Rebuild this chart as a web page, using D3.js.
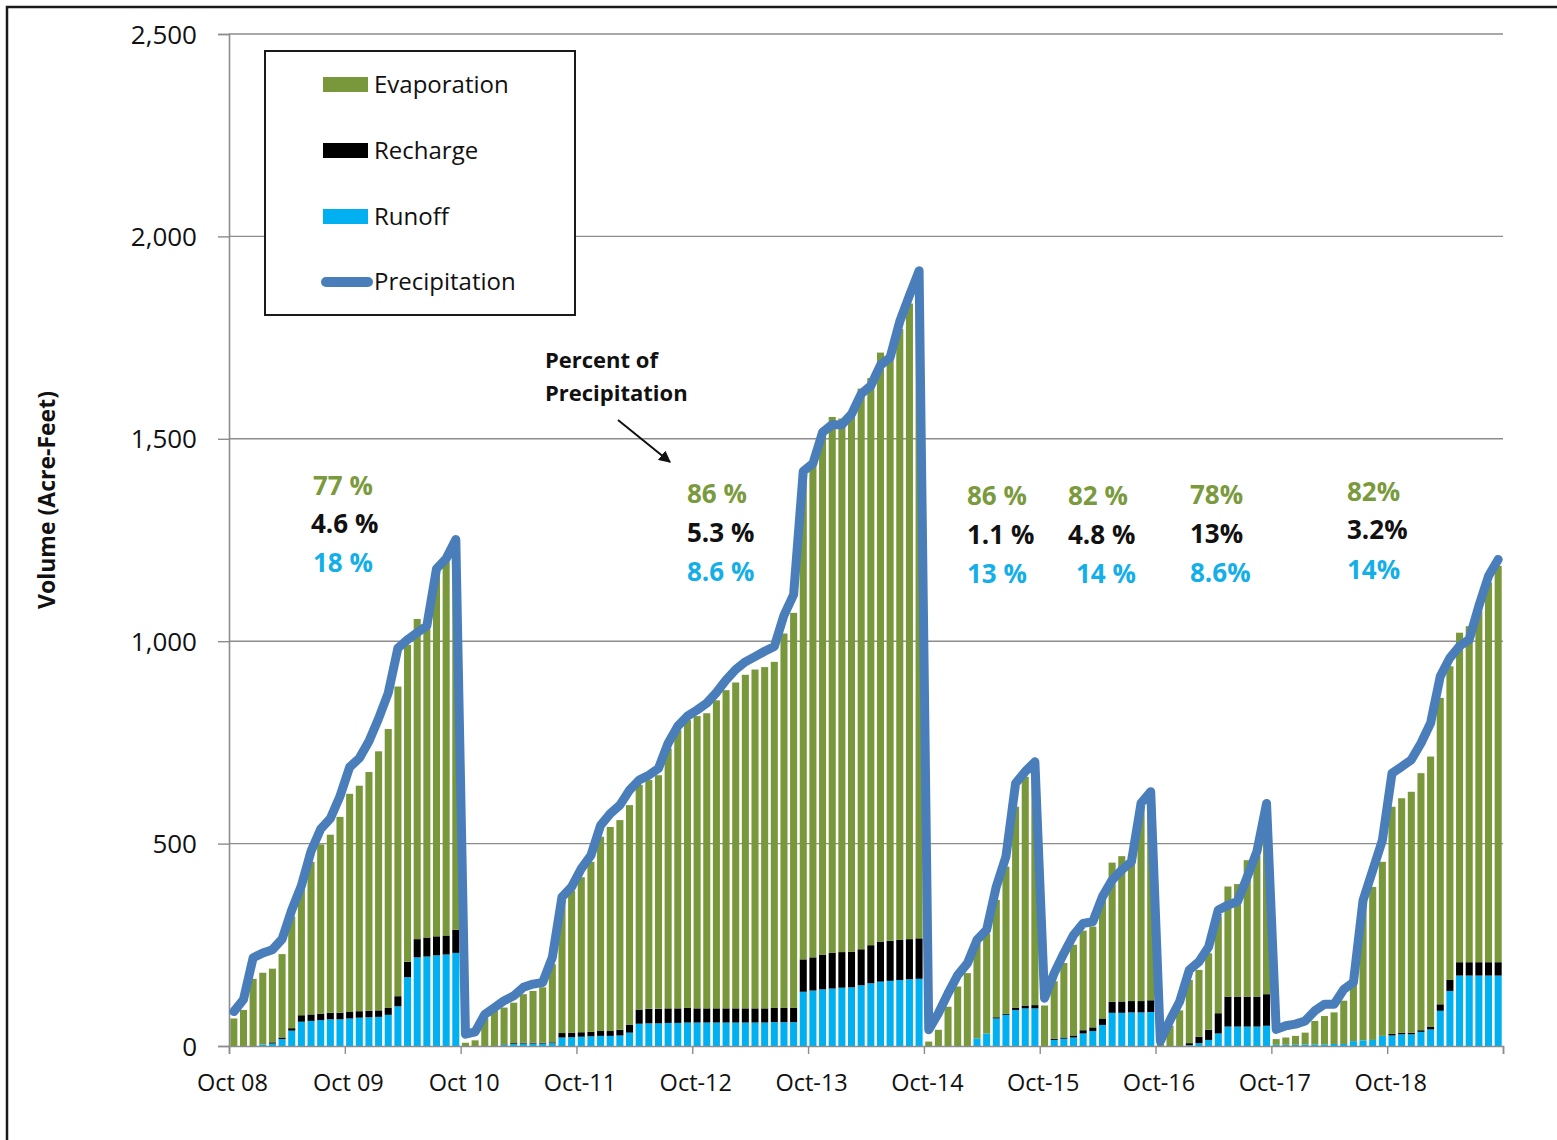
<!DOCTYPE html>
<html><head><meta charset="utf-8">
<script src="https://cdn.jsdelivr.net/npm/d3@7"></script>
<style>
html,body{margin:0;padding:0;background:#fff}
svg{display:block}
text{font-family:"Open Sans",sans-serif}
</style>
</head><body>
<svg id="chart" width="1557" height="1140"></svg>
<script>
// ---------------- DATA ----------------
// monthly categories, Oct 2008 .. Sep 2019 (132 months)
const months = d3.timeMonth.range(new Date(2008, 9, 1), new Date(2019, 9, 1));

// cumulative volumes (acre-feet) per month, reset each accounting period
const runoff = [
  0,0,0,4,6,17,38,60,62,64,66,66,68,70,71,72,77,98,170,219,221,224,226,230,
  0,0,0,0,3,5,6,6,6,7,21,22,23,24,25,25,26,33,55,56,56,57,57,58,
  58,58,58,58,58,58,58,58,59,59,59,134,137,140,142,144,145,150,155,159,161,163,165,166,
  0,0,0,0,0,19,31,68,77,89,93,93,
  0,15,18,21,31,37,52,82,82,83,83,84,
  0,0,0,2,7,15,31,48,48,48,48,50,
  3,3,3,4,4,4,5,5,12,14,15,25,26,29,29,35,41,87,136,174,174,174,174,174
];
const recharge = [
  0,0,0,0,3,4,6,16,16,16,16,16,16,16,16,16,17,25,38,45,47,47,47,57,
  0,0,0,0,1,2,2,2,2,2,11,11,11,11,12,12,14,19,35,36,36,36,36,36,
  35,35,35,35,35,35,35,35,35,35,35,80,82,85,88,88,88,89,94,99,99,99,99,100,
  0,0,0,0,0,0,0,3,3,5,7,8,
  0,3,3,5,8,9,16,27,28,28,28,29,
  0,0,0,5,16,25,50,74,74,74,74,78,
  0,0,0,0,0,0,0,0,0,0,0,0,4,4,4,4,6,16,27,33,33,33,33,33
];
const evaporation = [
  68,89,166,177,182,206,276,320,377,418,440,484,539,557,590,640,689,765,783,791,762,899,923,943,
  8,14,70,87,91,100,120,128,137,193,328,351,383,420,480,504,518,543,555,565,577,642,687,711,
  722,729,761,786,805,824,837,843,855,925,976,1200,1220,1297,1324,1318,1321,1385,1401,1455,1440,1509,1570,1629,
  11,40,97,147,180,235,247,290,363,497,565,589,
  100,142,184,224,246,249,292,344,359,359,479,507,
  5,50,88,156,165,189,239,272,278,337,348,464,
  14,18,22,29,58,70,78,107,141,336,378,430,561,579,595,635,668,757,775,814,830,868,938,979
];
const precipitation = [
  85,115,218,230,238,264,336,396,481,536,562,617,689,711,753,809,872,983,1004,1021,1038,1179,1204,1251,
  29,35,78,95,112,124,145,153,157,219,368,393,438,471,545,574,595,632,657,669,686,748,790,815,
  830,847,873,904,930,949,962,975,987,1064,1115,1420,1439,1516,1535,1535,1561,1611,1631,1682,1701,1790,1854,1915,
  40,81,130,175,204,262,287,394,468,649,678,702,
  118,180,229,274,303,307,369,410,435,455,600,628,
  12,64,110,188,208,245,336,348,357,418,480,599,
  41,50,54,62,87,103,103,140,157,360,434,508,674,690,707,748,798,913,959,988,1004,1087,1161,1202
];

const yTicks = [0, 500, 1000, 1500, 2000, 2500];
const xTickMonths = [0,12,24,36,48,60,72,84,96,108,120,132];
const xTickLabels = ["Oct 08","Oct 09","Oct 10","Oct-11","Oct-12","Oct-13","Oct-14","Oct-15","Oct-16","Oct-17","Oct-18",""];

const seriesNames = ["Evaporation","Recharge","Runoff","Precipitation"];
// percent-of-precipitation labels per period: [evaporation, recharge, runoff]
const pctEvap     = ["77 %","86 %","86 %","82 %","78%","82%"];
const pctRecharge = ["4.6 %","5.3 %","1.1 %","4.8 %","13%","3.2%"];
const pctRunoff   = ["18 %","8.6 %","13 %","14 %","8.6%","14%"];

// ---------------- LAYOUT / STYLE ----------------
const C = {
  evap: "#79983b", rech: "#000000", run: "#00b0f0", prec: "#4a7ebb",
  grid: "#8c8c8c", pctGreen: "#7a9a3d", pctBlue: "#14aee8"
};
const L = 229, R = 1503, T = 34, B = 1046;
// label anchor positions (x start, baselines for the three rows)
const pctPos = [
  {x:[313,311,313], y:[495,533,572]},
  {x:[687,687,687], y:[503,542,581]},
  {x:[967,967,967], y:[505,544,583]},
  {x:[1068,1068,1076], y:[505,544,583]},
  {x:[1190,1190,1190], y:[504,543,582]},
  {x:[1347,1347,1347], y:[501,539,579]}
];

const svg = d3.select("#chart");
svg.append("rect").attr("width",1557).attr("height",1140).attr("fill","#fff");
// outer frame
svg.append("rect").attr("x",7).attr("y",7).attr("width",1580).attr("height",1160)
  .attr("fill","none").attr("stroke","#1a1a1a").attr("stroke-width",2.5);

const x = d3.scaleBand().domain(d3.range(months.length)).range([L,R])
  .paddingInner(0.27).paddingOuter(0.135);
const xt = d3.scaleLinear().domain([0, months.length]).range([L,R]);
const y = d3.scaleLinear().domain([0,2500]).range([B,T]);

// gridlines
svg.append("g").selectAll("line").data(yTicks.filter(d=>d>0)).join("line")
  .attr("x1",L).attr("x2",R).attr("y1",d=>y(d)).attr("y2",d=>y(d))
  .attr("stroke",C.grid).attr("stroke-width",1.4);

// stacked bars
const rows = months.map((m,i)=>({i, runoff:runoff[i], recharge:recharge[i], evaporation:evaporation[i]}));
const stacked = d3.stack().keys(["runoff","recharge","evaporation"])(rows);
const colorOf = {runoff:C.run, recharge:C.rech, evaporation:C.evap};
svg.append("g").selectAll("g").data(stacked).join("g")
  .attr("fill",d=>colorOf[d.key])
  .selectAll("rect").data(d=>d).join("rect")
  .attr("x",d=>x(d.data.i)).attr("width",x.bandwidth())
  .attr("y",d=>y(d[1])).attr("height",d=>Math.max(0,y(d[0])-y(d[1])));

// axes
const yAxis = svg.append("g").attr("transform",`translate(${L},0)`)
  .call(d3.axisLeft(y).tickValues(yTicks).tickSize(11).tickPadding(21).tickFormat(d3.format(",")));
yAxis.select(".domain").attr("stroke",C.grid).attr("stroke-width",1.6);
yAxis.selectAll(".tick line").attr("stroke",C.grid).attr("stroke-width",1.4);
yAxis.selectAll("text").attr("font-size",26).attr("fill","#111").attr("dy","0.35em");

const xAxis = svg.append("g").attr("transform",`translate(0,${B})`)
  .call(d3.axisBottom(xt).tickValues(xTickMonths).tickSize(8).tickPadding(20)
    .tickFormat((d,i)=>xTickLabels[i]));
xAxis.select(".domain").attr("stroke",C.grid).attr("stroke-width",1.6);
xAxis.selectAll(".tick line").attr("stroke",C.grid).attr("stroke-width",1.4);
xAxis.selectAll("text").attr("font-size",23.5).attr("fill","#111").attr("dx",3);

// precipitation line
const line = d3.line().x((d,i)=>x(i)+x.bandwidth()/2).y(d=>y(d));
svg.append("path").datum(precipitation).attr("d",line)
  .attr("fill","none").attr("stroke",C.prec).attr("stroke-width",9)
  .attr("stroke-linejoin","round").attr("stroke-linecap","round");

// y title
svg.append("text").attr("transform","translate(55,500) rotate(-90)")
  .attr("text-anchor","middle").attr("font-size",23).attr("font-weight","bold")
  .attr("fill","#111").text("Volume (Acre-Feet)");

// legend
const lg = svg.append("g");
lg.append("rect").attr("x",265).attr("y",51).attr("width",310).attr("height",264)
  .attr("fill","#fff").attr("stroke","#1a1a1a").attr("stroke-width",2);
const legY = [84.5, 150.5, 216.5, 282];
const legCol = [C.evap, C.rech, C.run, C.prec];
seriesNames.forEach((n,i)=>{
  if (i < 3) {
    lg.append("rect").attr("x",323).attr("y",legY[i]-7.5).attr("width",45).attr("height",15).attr("fill",legCol[i]);
  } else {
    lg.append("line").attr("x1",326).attr("x2",368).attr("y1",legY[i]).attr("y2",legY[i])
      .attr("stroke",legCol[i]).attr("stroke-width",10).attr("stroke-linecap","round");
  }
  lg.append("text").attr("x",374).attr("y",legY[i]+8).attr("font-size",24).attr("fill","#111").text(n);
});

// percent annotations
const pctSets = [[pctEvap,C.pctGreen],[pctRecharge,"#111"],[pctRunoff,C.pctBlue]];
pctPos.forEach((p,k)=>{
  pctSets.forEach(([arr,col],r)=>{
    svg.append("text").attr("x",p.x[r]).attr("y",p.y[r]).attr("font-size",26)
      .attr("font-weight","bold").attr("fill",col).text(arr[k]);
  });
});

// "Percent of Precipitation" note with arrow
svg.append("text").attr("x",545).attr("y",368).attr("font-size",22).attr("font-weight","bold").attr("fill","#111").text("Percent of");
svg.append("text").attr("x",545).attr("y",401).attr("font-size",22).attr("font-weight","bold").attr("fill","#111").text("Precipitation");
svg.append("defs").append("marker").attr("id","ah").attr("viewBox","0 0 10 10")
  .attr("refX",9).attr("refY",5).attr("markerWidth",6).attr("markerHeight",6).attr("orient","auto")
  .append("path").attr("d","M0,0 L10,5 L0,10 z").attr("fill","#111");
svg.append("line").attr("x1",618).attr("y1",420).attr("x2",670).attr("y2",462)
  .attr("stroke","#111").attr("stroke-width",2).attr("marker-end","url(#ah)");
</script>
</body></html>
